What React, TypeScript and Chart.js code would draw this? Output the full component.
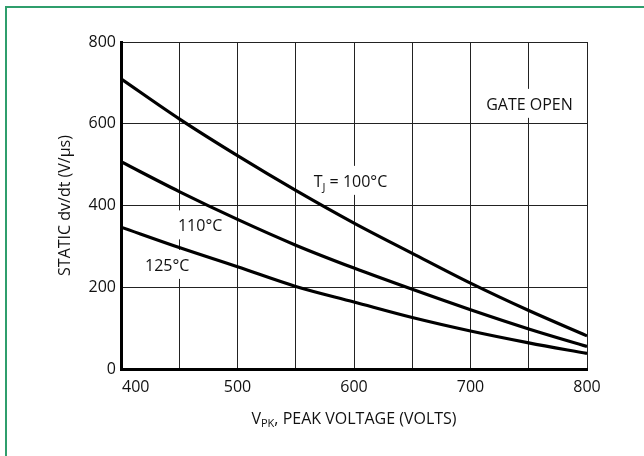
import React, { useEffect, useRef } from "react";
import { Chart, registerables } from "chart.js";

Chart.register(...registerables);

const voltage = [400, 450, 500, 550, 600, 650, 700, 750, 800];
const dvdt100 = [710, 612, 522, 437, 357, 283, 210, 143, 81];
const dvdt110 = [507, 434, 366, 303, 247, 195, 145, 98, 55];
const dvdt125 = [347, 297, 250, 202, 164, 126, 93, 64, 38];

const xTickValues = [400, 500, 600, 700, 800];
const yLabelStep = 200;

const FONT = "'Open Sans', 'Noto Sans', sans-serif";

type Note = { x: number; y: number; text: string; sub?: string; rest?: string; align: "left" | "center" };
const notes: Note[] = [
  { x: 750.6, y: 634, text: "GATE OPEN", align: "center" },
  { x: 565.4, y: 445.6, text: "T", sub: "J", rest: " = 100°C", align: "left" },
  { x: 448.9, y: 336.7, text: "110°C", align: "left" },
  { x: 420.6, y: 240, text: "125°C", align: "left" },
];

const textPlugin = {
  id: "textPlugin",
  beforeDatasetsDraw(chart: any) {
    const ctx = chart.ctx;
    const xs = chart.scales.x;
    const ys = chart.scales.y;
    ctx.save();
    for (const n of notes) {
      const px = xs.getPixelForValue(n.x);
      const py = ys.getPixelForValue(n.y);
      ctx.font = `16px ${FONT}`;
      const w1 = ctx.measureText(n.text).width;
      let w = w1;
      let wsub = 0;
      let wrest = 0;
      if (n.sub) {
        ctx.font = `11px ${FONT}`;
        wsub = ctx.measureText(n.sub).width;
        ctx.font = `16px ${FONT}`;
        wrest = ctx.measureText(n.rest || "").width;
        w = w1 + wsub + wrest;
      }
      const left = n.align === "center" ? px - w / 2 : px;
      ctx.fillStyle = "#fff";
      ctx.fillRect(left - 3, py - 21, w + 6, 29);
      ctx.fillStyle = "#111";
      ctx.textBaseline = "alphabetic";
      ctx.textAlign = "left";
      ctx.font = `16px ${FONT}`;
      ctx.fillText(n.text, left, py);
      if (n.sub) {
        ctx.font = `11px ${FONT}`;
        ctx.fillText(n.sub, left + w1, py + 4);
        ctx.font = `16px ${FONT}`;
        ctx.fillText(n.rest || "", left + w1 + wsub, py);
      }
    }
    ctx.restore();
  },
  afterDraw(chart: any) {
    const ctx = chart.ctx;
    const xs = chart.scales.x;
    const area = chart.chartArea;
    ctx.save();
    ctx.fillStyle = "#111";
    ctx.font = `16px ${FONT}`;
    ctx.textBaseline = "alphabetic";
    xTickValues.forEach((v, i) => {
      const px = xs.getPixelForValue(v);
      ctx.textAlign = i === 0 ? "left" : "center";
      ctx.fillText(String(v), i === 0 ? px + 1 : px, area.bottom + 22.5);
    });
    // x title with subscript
    const main1 = "V";
    const sub = "PK";
    const main2 = ", PEAK VOLTAGE (VOLTS)";
    ctx.font = `16px ${FONT}`;
    const a = ctx.measureText(main1).width;
    const c = ctx.measureText(main2).width;
    ctx.font = `11px ${FONT}`;
    const b = ctx.measureText(sub).width;
    const total = a + b + c;
    const cx = (area.left + area.right) / 2;
    const sx = cx - total / 2;
    const by = area.bottom + 55;
    ctx.textAlign = "left";
    ctx.font = `16px ${FONT}`;
    ctx.fillText(main1, sx, by);
    ctx.font = `11px ${FONT}`;
    ctx.fillText(sub, sx + a, by + 3);
    ctx.font = `16px ${FONT}`;
    ctx.fillText(main2, sx + a + b, by);
    // y title
    ctx.translate(70, (area.top + area.bottom) / 2);
    ctx.rotate(-Math.PI / 2);
    ctx.textAlign = "center";
    ctx.fillText("STATIC dv/dt (V/µs)", 0, 0);
    ctx.restore();
  },
};

export default function App() {
  const ref = useRef<HTMLCanvasElement | null>(null);
  useEffect(() => {
    if (!ref.current) return;
    const mk = (d: number[]) => ({
      data: voltage.map((v, i) => ({ x: v, y: d[i] })),
      borderColor: "#000",
      borderWidth: 3.2,
      pointRadius: 0,
      cubicInterpolationMode: "monotone" as const,
      fill: false,
    });
    const chart = new Chart(ref.current, {
      type: "line",
      data: {
        datasets: [mk(dvdt100), mk(dvdt110), mk(dvdt125)],
      },
      options: {
        animation: false,
        responsive: false,
        devicePixelRatio: 1,
        layout: { padding: { top: 42, right: 57, left: 0, bottom: 0 } },
        plugins: { legend: { display: false }, tooltip: { enabled: false } },
        scales: {
          x: {
            type: "linear",
            min: 400,
            max: 800,
            ticks: { stepSize: 50, display: false },
            grid: { color: "#222", lineWidth: 1, drawTicks: false },
            border: { color: "#000", width: 3 },
            afterFit: (s: any) => {
              s.height = 87;
            },
          },
          y: {
            type: "linear",
            min: 0,
            max: 800,
            ticks: {
              stepSize: 100,
              padding: 5,
              color: "#111",
              font: { family: FONT, size: 16 },
              callback: (v: any) => (Number(v) % yLabelStep === 0 ? String(v) : null),
            },
            grid: { color: "#222", lineWidth: 1, drawTicks: false },
            border: { color: "#000", width: 3 },
            afterFit: (s: any) => {
              s.width = 121;
            },
          },
        },
      },
      plugins: [textPlugin],
    });
    return () => chart.destroy();
  }, []);
  return (
    <div style={{ position: "fixed", left: 0, top: 0, width: 644, height: 456, background: "#fff" }}>
      <canvas ref={ref} width={644} height={456} style={{ position: "absolute", left: 0, top: 0 }} />
      <div
        style={{
          position: "absolute",
          left: 5,
          top: 6,
          width: 650,
          height: 460,
          borderTop: "2px solid #2f9e6c",
          borderLeft: "2px solid #2f9e6c",
          pointerEvents: "none",
        }}
      />
    </div>
  );
}
